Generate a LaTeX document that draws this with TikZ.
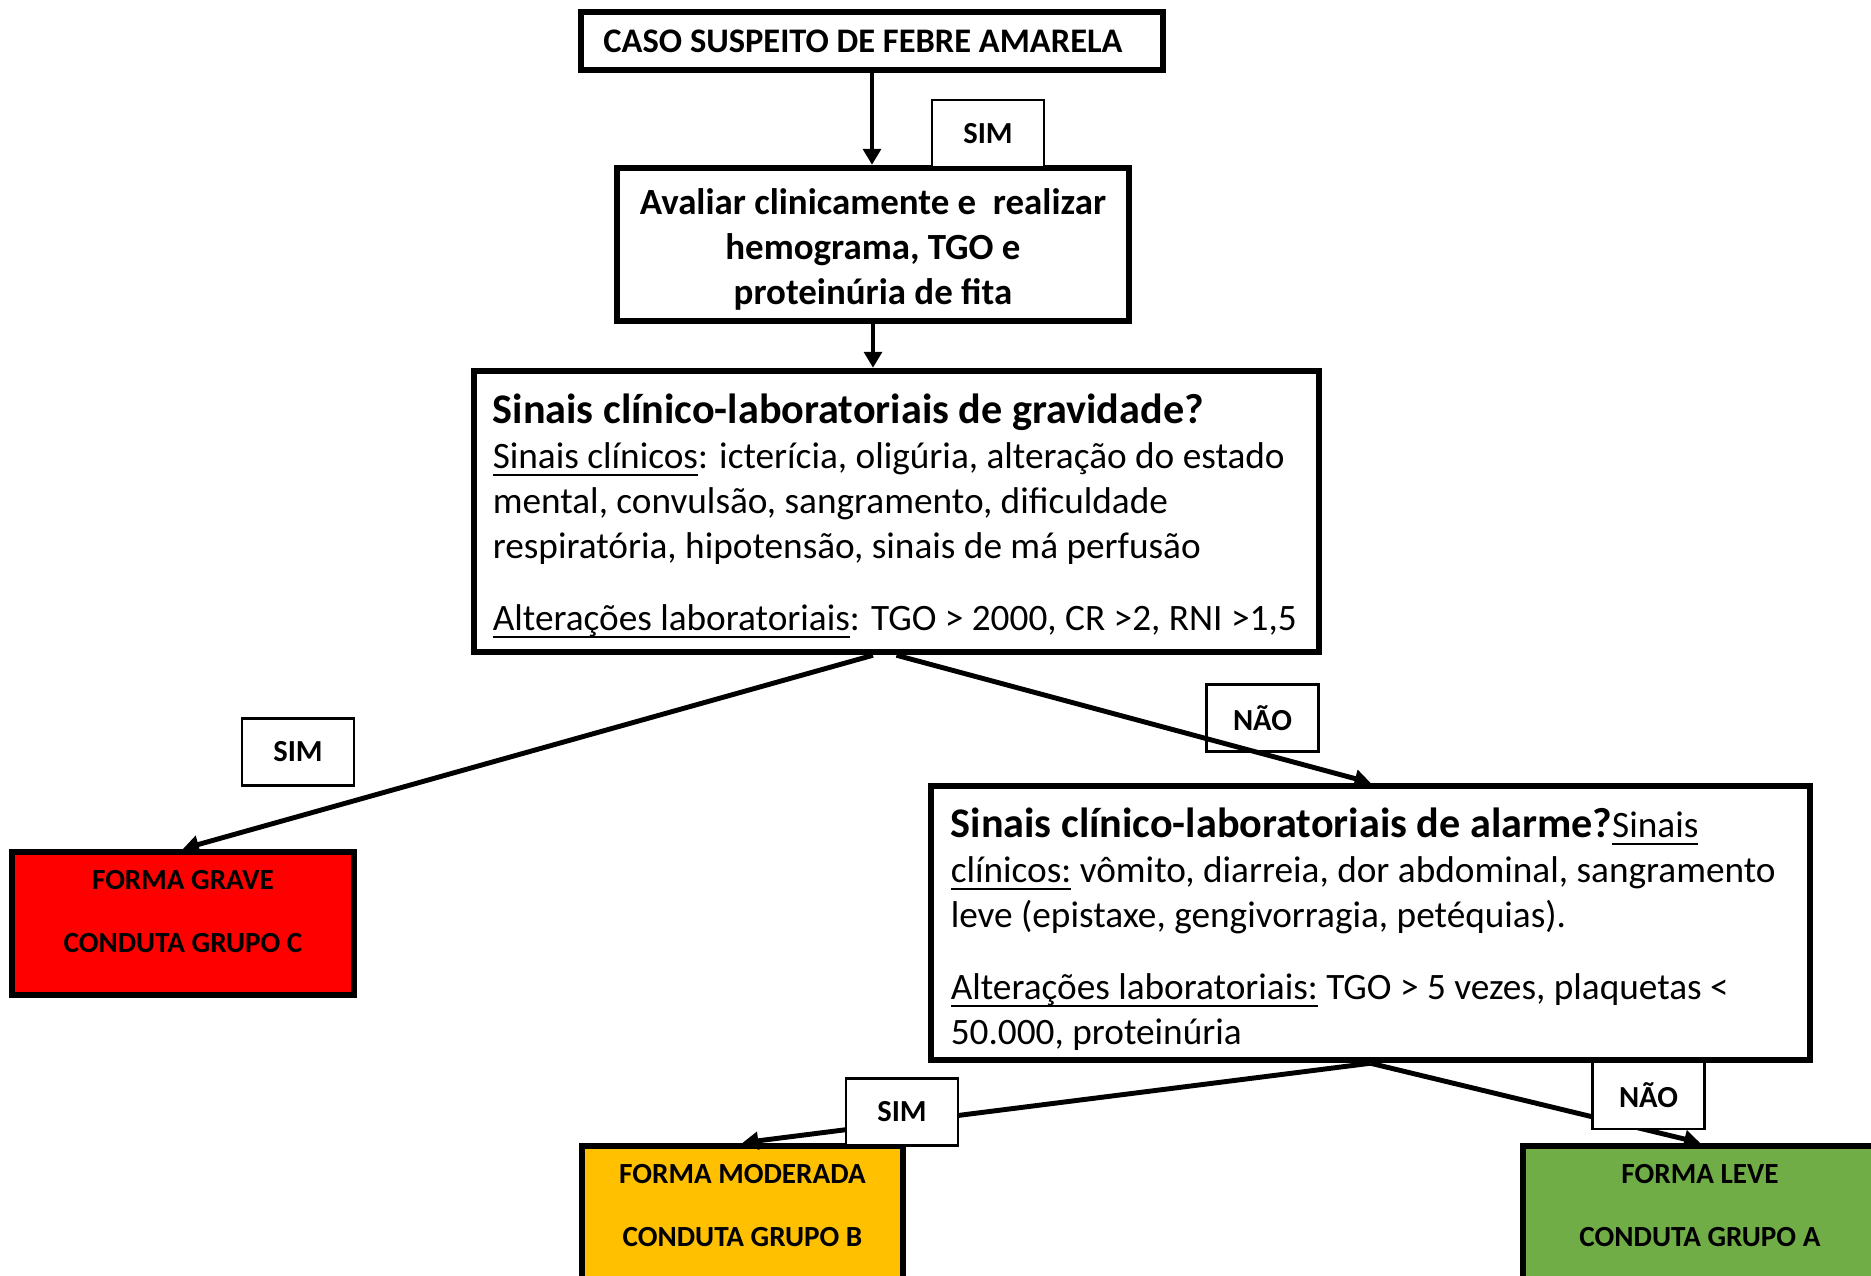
\documentclass[tikz,border=0pt]{standalone}
\usepackage{fontspec}
\setmainfont{Carlito}
\usetikzlibrary{arrows.meta,positioning}
\definecolor{graveRed}{HTML}{FF0000}
\definecolor{moderYel}{HTML}{FFC000}
\definecolor{leveGrn}{HTML}{70AD47}
\newcommand{\undl}[1]{\leavevmode\setbox0\hbox{#1}\rlap{\vrule height -1.5pt depth 2.1pt width \wd0}\box0\relax}

\begin{document}
\begin{tikzpicture}[x=0.01cm,y=-0.01cm,
    box/.style={draw, line width=1.8pt, fill=white, inner sep=0pt},
    grp/.style={draw, line width=1.8pt, inner sep=0pt, minimum height=1.44cm},
    grptxt/.style={anchor=north, align=center, inner sep=0pt,
                   font=\fontsize{8.3}{17.9}\selectfont\bfseries},
    lbl/.style={draw, line width=0.7pt, fill=white, minimum width=1.12cm,
                minimum height=0.67cm, inner sep=0pt,
                font=\fontsize{8.7}{10}\selectfont\bfseries},
    arr/.style={line width=1.4pt, -{Triangle[length=4.5pt,width=5pt]}}]
\useasboundingbox (0,0) rectangle (1871,1276);

% main boxes
\node[box, minimum width=5.81cm, minimum height=0.58cm,
      font=\fontsize{9.8}{12}\selectfont\bfseries] (caso) at (872,41)
      {CASO SUSPEITO DE FEBRE AMARELA\hspace*{1.8mm}};
\node[box, minimum width=5.12cm, minimum height=1.53cm, align=center,
      font=\fontsize{10.5}{12.8}\selectfont\bfseries] (aval) at (873,244.5)
      {\\[-2.6pt]Avaliar clinicamente e\ \ realizar\\ hemograma, TGO e\\ proteinúria de fita};
\node[box, minimum width=8.45cm, minimum height=2.81cm, text width=8.07cm, align=flush left,
      font=\fontsize{10.6}{12.8}\selectfont] (grav) at (896.5,511.5)
      {{\fontsize{12}{13.5}\selectfont\bfseries\rule{0pt}{11pt}Sinais clínico-laboratoriais de gravidade?}\\
       \undl{Sinais clínicos}: icterícia, oligúria, alteração do estado\\
       mental, convulsão, sangramento, dificuldade\\
       respiratória, hipotensão, sinais de má perfusão\\[7.7pt]
       \undl{Alterações laboratoriais}: TGO > 2000, CR >2, RNI >1,5};
\node[box, minimum width=8.79cm, minimum height=2.74cm, text width=8.39cm, align=flush left,
      font=\fontsize{10.6}{12.8}\selectfont] (alarm) at (1370.5,923)
      {{\fontsize{12}{13.5}\selectfont\bfseries\rule{0pt}{12pt}Sinais clínico-laboratoriais de alarme?}\undl{Sinais}\\
       \undl{clínicos:} vômito, diarreia, dor abdominal, sangramento\\
       leve (epistaxe, gengivorragia, petéquias).\\[7.7pt]
       \undl{Alterações laboratoriais:} TGO > 5 vezes, plaquetas <\\
       50.000, proteinúria};

% outcome boxes
\node[grp, fill=graveRed, minimum width=3.42cm, minimum height=1.43cm] (grave) at (183,923.5) {};
\node[grp, fill=moderYel, minimum width=3.21cm] (moder) at (742.5,1218) {};
\node[grp, fill=leveGrn, minimum width=3.54cm] (leve) at (1700,1218) {};
\node[grptxt] (gravetxt) at ([yshift=-2.1mm]grave.north) {FORMA GRAVE\\ CONDUTA GRUPO C};
\node[grptxt] (modertxt) at ([yshift=-2.1mm]moder.north) {FORMA MODERADA\\ CONDUTA GRUPO B};
\node[grptxt] (levetxt) at ([yshift=-2.1mm]leve.north) {FORMA LEVE\\ CONDUTA GRUPO A};

\node[lbl] (sim1) at (988,133.5) {SIM};
\node[lbl] (sim2) at (298,752) {SIM};
\node[lbl] (nao1) at (1262.5,718) {NÃO};

% arrows
\draw[arr] (caso.south) -- (caso.south |- aval.north);
\draw[arr] (aval.south) -- (aval.south |- grav.north);
\draw[arr] ([xshift=-2.35mm]grav.south) -- (grave.north);
\draw[arr] (grav.south) -- (alarm.north);
\draw[arr] (alarm.south) -- (moder.north);
\draw[arr] (alarm.south) -- (leve.north);

\node[lbl] (sim3) at (902,1112) {SIM};
\node[lbl] (nao2) at (1648.5,1095.5) {NÃO};
\end{tikzpicture}
\end{document}
